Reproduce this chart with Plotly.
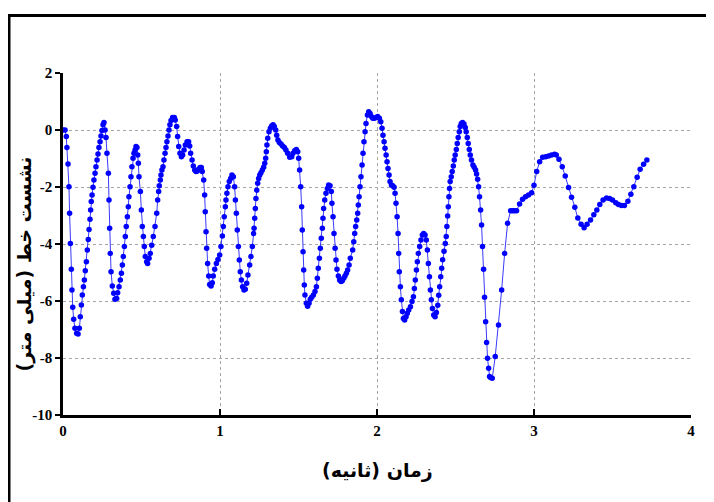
import plotly.graph_objects as go

# time (s)
time_s = [
    0.000, 0.013, 0.021, 0.025, 0.032, 0.038, 0.042, 0.047, 0.053, 0.057,
    0.062, 0.068, 0.076, 0.087, 0.096, 0.104, 0.110, 0.117, 0.123, 0.130,
    0.136, 0.142, 0.149, 0.155, 0.161, 0.166, 0.172, 0.176, 0.180, 0.185,
    0.191, 0.197, 0.204, 0.210, 0.217, 0.223, 0.229, 0.236, 0.242, 0.248,
    0.255, 0.261, 0.268, 0.274, 0.280, 0.289, 0.293, 0.297, 0.301, 0.306,
    0.314, 0.323, 0.331, 0.342, 0.348, 0.357, 0.365, 0.372, 0.378, 0.384,
    0.391, 0.397, 0.403, 0.410, 0.416, 0.420, 0.427, 0.433, 0.439, 0.446,
    0.452, 0.459, 0.465, 0.471, 0.476, 0.480, 0.484, 0.493, 0.499, 0.505,
    0.512, 0.518, 0.524, 0.533, 0.539, 0.548, 0.556, 0.565, 0.575, 0.586,
    0.597, 0.603, 0.609, 0.613, 0.620, 0.624, 0.630, 0.637, 0.643, 0.650,
    0.656, 0.662, 0.669, 0.675, 0.681, 0.688, 0.698, 0.709, 0.715, 0.724,
    0.730, 0.737, 0.745, 0.754, 0.762, 0.771, 0.779, 0.790, 0.800, 0.807,
    0.813, 0.822, 0.830, 0.839, 0.847, 0.856, 0.864, 0.873, 0.881, 0.887,
    0.896, 0.902, 0.906, 0.911, 0.915, 0.921, 0.928, 0.934, 0.943, 0.951,
    0.957, 0.966, 0.977, 0.987, 0.998, 1.006, 1.015, 1.021, 1.027, 1.034,
    1.038, 1.044, 1.051, 1.059, 1.068, 1.076, 1.085, 1.093, 1.098, 1.104,
    1.110, 1.117, 1.123, 1.129, 1.136, 1.144, 1.153, 1.161, 1.170, 1.178,
    1.189, 1.197, 1.206, 1.214, 1.217, 1.221, 1.225, 1.229, 1.234, 1.240,
    1.246, 1.253, 1.261, 1.270, 1.278, 1.285, 1.291, 1.295, 1.299, 1.304,
    1.312, 1.321, 1.329, 1.338, 1.346, 1.355, 1.361, 1.369, 1.378, 1.389,
    1.399, 1.410, 1.420, 1.431, 1.444, 1.457, 1.465, 1.476, 1.486, 1.495,
    1.501, 1.507, 1.514, 1.520, 1.524, 1.529, 1.533, 1.537, 1.541, 1.550,
    1.558, 1.567, 1.575, 1.584, 1.595, 1.605, 1.614, 1.620, 1.626, 1.633,
    1.639, 1.645, 1.652, 1.656, 1.660, 1.667, 1.675, 1.684, 1.692, 1.701,
    1.709, 1.713, 1.720, 1.726, 1.733, 1.739, 1.745, 1.754, 1.762, 1.771,
    1.779, 1.788, 1.796, 1.805, 1.813, 1.822, 1.830, 1.845, 1.852, 1.858,
    1.864, 1.871, 1.877, 1.881, 1.886, 1.892, 1.898, 1.905, 1.911, 1.917,
    1.924, 1.930, 1.939, 1.947, 1.956, 1.964, 1.973, 1.983, 1.994, 2.004,
    2.015, 2.024, 2.032, 2.038, 2.045, 2.051, 2.058, 2.064, 2.070, 2.077,
    2.083, 2.092, 2.100, 2.109, 2.115, 2.121, 2.128, 2.134, 2.138, 2.142,
    2.149, 2.155, 2.162, 2.168, 2.176, 2.185, 2.193, 2.202, 2.213, 2.223,
    2.232, 2.238, 2.244, 2.251, 2.257, 2.263, 2.272, 2.280, 2.289, 2.297,
    2.306, 2.314, 2.321, 2.327, 2.334, 2.340, 2.346, 2.353, 2.361, 2.370,
    2.378, 2.387, 2.393, 2.399, 2.406, 2.412, 2.418, 2.427, 2.435, 2.441,
    2.445, 2.450, 2.454, 2.458, 2.462, 2.466, 2.473, 2.479, 2.486, 2.492,
    2.498, 2.505, 2.511, 2.517, 2.524, 2.530, 2.537, 2.545, 2.554, 2.562,
    2.568, 2.575, 2.581, 2.588, 2.594, 2.602, 2.611, 2.619, 2.628, 2.634,
    2.641, 2.647, 2.653, 2.660, 2.666, 2.672, 2.679, 2.685, 2.692, 2.698,
    2.704, 2.711, 2.717, 2.723, 2.734, 2.753, 2.774, 2.794, 2.813, 2.832,
    2.851, 2.864, 2.876, 2.889, 2.908, 2.927, 2.946, 2.965, 2.985, 3.000,
    3.017, 3.036, 3.055, 3.074, 3.093, 3.112, 3.131, 3.142, 3.159, 3.180,
    3.199, 3.220, 3.239, 3.260, 3.279, 3.300, 3.319, 3.338, 3.360, 3.381,
    3.400, 3.419, 3.440, 3.462, 3.481, 3.500, 3.521, 3.538, 3.557, 3.576,
    3.598, 3.617, 3.636, 3.657, 3.676, 3.698, 3.719,
]

# track settlement (mm)
settlement_mm = [
    0.00, 0.00, -0.23, -0.61, -1.19, -1.99, -2.92, -3.98, -4.89, -5.61,
    -6.22, -6.64, -6.96, -7.13, -7.16, -6.96, -6.55, -6.14, -5.79, -5.50,
    -5.26, -4.94, -4.62, -4.21, -3.84, -3.49, -3.13, -2.81, -2.51, -2.28,
    -2.01, -1.75, -1.52, -1.29, -1.05, -0.84, -0.61, -0.41, -0.21, -0.02,
    0.18, 0.26, 0.00, -0.26, -0.82, -1.52, -2.46, -3.45, -4.33, -4.97,
    -5.47, -5.73, -5.94, -5.91, -5.71, -5.50, -5.26, -5.03, -4.74, -4.44,
    -4.09, -3.74, -3.39, -3.04, -2.69, -2.34, -1.99, -1.64, -1.29, -0.99,
    -0.82, -0.70, -0.58, -0.61, -0.88, -1.17, -1.64, -2.16, -2.81, -3.39,
    -3.74, -4.09, -4.44, -4.62, -4.68, -4.50, -4.33, -4.04, -3.74, -3.39,
    -2.92, -2.46, -2.16, -1.96, -1.75, -1.58, -1.40, -1.29, -1.05, -0.82,
    -0.61, -0.41, -0.21, 0.00, 0.18, 0.33, 0.44, 0.44, 0.35, 0.12,
    -0.23, -0.58, -0.82, -0.94, -0.88, -0.70, -0.53, -0.41, -0.41, -0.56,
    -0.82, -1.05, -1.26, -1.40, -1.46, -1.44, -1.38, -1.32, -1.32, -1.46,
    -1.75, -2.28, -2.87, -3.57, -4.15, -4.68, -5.12, -5.42, -5.47, -5.36,
    -5.12, -4.89, -4.68, -4.54, -4.39, -4.09, -3.72, -3.39, -3.04, -2.69,
    -2.46, -2.22, -1.99, -1.81, -1.70, -1.58, -1.64, -1.99, -2.46, -2.92,
    -3.51, -4.09, -4.56, -4.97, -5.26, -5.50, -5.61, -5.59, -5.38, -5.09,
    -4.74, -4.44, -4.09, -3.63, -3.45, -3.10, -2.75, -2.40, -2.11, -1.87,
    -1.70, -1.58, -1.50, -1.40, -1.31, -1.17, -0.99, -0.76, -0.53, -0.29,
    -0.06, 0.06, 0.14, 0.18, 0.12, 0.00, -0.18, -0.35, -0.44, -0.49,
    -0.56, -0.61, -0.70, -0.82, -0.96, -0.94, -0.82, -0.73, -0.68, -0.76,
    -0.99, -1.40, -1.99, -2.69, -3.51, -4.27, -4.91, -5.44, -5.79, -6.08,
    -6.18, -6.08, -5.94, -5.87, -5.79, -5.67, -5.50, -5.20, -4.85, -4.50,
    -4.15, -3.80, -3.45, -3.10, -2.75, -2.46, -2.22, -2.05, -1.93, -1.96,
    -2.16, -2.57, -3.04, -3.63, -4.15, -4.56, -4.89, -5.12, -5.26, -5.32,
    -5.29, -5.20, -5.12, -5.03, -4.91, -4.74, -4.50, -4.21, -3.92, -3.63,
    -3.39, -3.16, -2.92, -2.63, -2.34, -1.99, -1.64, -1.23, -0.82, -0.41,
    -0.06, 0.23, 0.53, 0.64, 0.58, 0.47, 0.41, 0.41, 0.44, 0.47,
    0.41, 0.29, 0.06, -0.18, -0.41, -0.64, -0.88, -1.11, -1.35, -1.58,
    -1.81, -1.93, -1.96, -2.01, -2.22, -2.57, -3.04, -3.63, -4.33, -4.97,
    -5.50, -5.96, -6.37, -6.61, -6.67, -6.55, -6.43, -6.32, -6.20, -6.02,
    -5.85, -5.56, -5.26, -4.91, -4.62, -4.33, -4.09, -3.86, -3.68, -3.63,
    -3.68, -3.86, -4.21, -4.68, -5.15, -5.61, -5.96, -6.26, -6.49, -6.55,
    -6.40, -6.15, -5.80, -5.50, -5.15, -4.85, -4.55, -4.25, -3.98, -3.74,
    -3.39, -3.02, -2.69, -2.34, -2.05, -1.81, -1.64, -1.46, -1.26, -1.05,
    -0.88, -0.68, -0.47, -0.26, -0.06, 0.12, 0.23, 0.26, 0.21, 0.09,
    -0.06, -0.26, -0.47, -0.68, -0.88, -1.05, -1.23, -1.31, -1.40, -1.54,
    -1.73, -1.99, -2.34, -2.81, -3.33, -4.09, -4.89, -5.87, -6.73, -7.46,
    -8.01, -8.36, -8.65, -8.68, -8.71, -7.95, -6.84, -5.61, -4.33, -3.27,
    -2.83, -2.83, -2.83, -2.83, -2.60, -2.43, -2.34, -2.28, -2.20, -1.94,
    -1.46, -1.11, -0.96, -0.94, -0.91, -0.88, -0.85, -0.88, -1.03, -1.29,
    -1.61, -2.02, -2.36, -2.71, -3.09, -3.31, -3.43, -3.31, -3.16, -2.97,
    -2.81, -2.61, -2.46, -2.39, -2.40, -2.46, -2.55, -2.61, -2.65, -2.65,
    -2.50, -2.25, -1.99, -1.66, -1.38, -1.20, -1.05,
]

x_ticks = [0, 1, 2, 3, 4]
y_ticks = [-10, -8, -6, -4, -2, 0, 2]
x_title = "زمان (ثانیه)"
y_title = "نشست خط (میلی متر)"

tick_font = dict(family="Liberation Serif, Times New Roman, serif", size=15,
                 color="black")
title_font = dict(family="DejaVu Sans, sans-serif", size=19, color="black")

fig = go.Figure()
fig.add_trace(go.Scatter(
    x=time_s, y=settlement_mm, mode="lines+markers",
    line=dict(color="#3a3aff", width=1),
    marker=dict(color="#0000ff", size=5.5, line=dict(width=0)),
    showlegend=False,
))

fig.update_layout(
    width=706, height=494,
    margin=dict(l=55, r=23, t=65, b=87),
    paper_bgcolor="white", plot_bgcolor="white",
    xaxis=dict(
        range=[0, 4], tickvals=x_ticks,
        ticktext=["<b>%d</b>" % v for v in x_ticks],
        showgrid=True, gridcolor="#a6a6a6", griddash="dot", gridwidth=1,
        zeroline=False, showline=True, linecolor="black", linewidth=2.5,
        ticks="inside", ticklen=6, tickwidth=1.5, tickcolor="black",
        tickfont=tick_font,
    ),
    yaxis=dict(
        range=[-10, 2], tickvals=y_ticks,
        ticktext=["<b>%d</b>" % v for v in y_ticks],
        showgrid=True, gridcolor="#a6a6a6", griddash="dot", gridwidth=1,
        zeroline=False, showline=True, linecolor="black", linewidth=2.5,
        ticks="outside", ticklen=5, tickwidth=1.5, tickcolor="black",
        tickfont=tick_font,
    ),
    shapes=[
        dict(type="rect", xref="paper", yref="paper",
             x0=-0.086, x1=1.1, y0=-0.3, y1=1.168,
             line=dict(color="black", width=3), fillcolor="rgba(0,0,0,0)",
             layer="above"),
    ],
    annotations=[
        dict(text="<b>%s</b>" % x_title, xref="paper", yref="paper",
             x=0.5, y=-0.161, showarrow=False, font=title_font,
             xanchor="center", yanchor="middle"),
        dict(text="<b>%s</b>" % y_title, xref="paper", yref="paper",
             x=-0.0605, y=0.44, showarrow=False, font=title_font,
             textangle=-90, xanchor="center", yanchor="middle"),
    ],
)

fig.write_html("out.html")
